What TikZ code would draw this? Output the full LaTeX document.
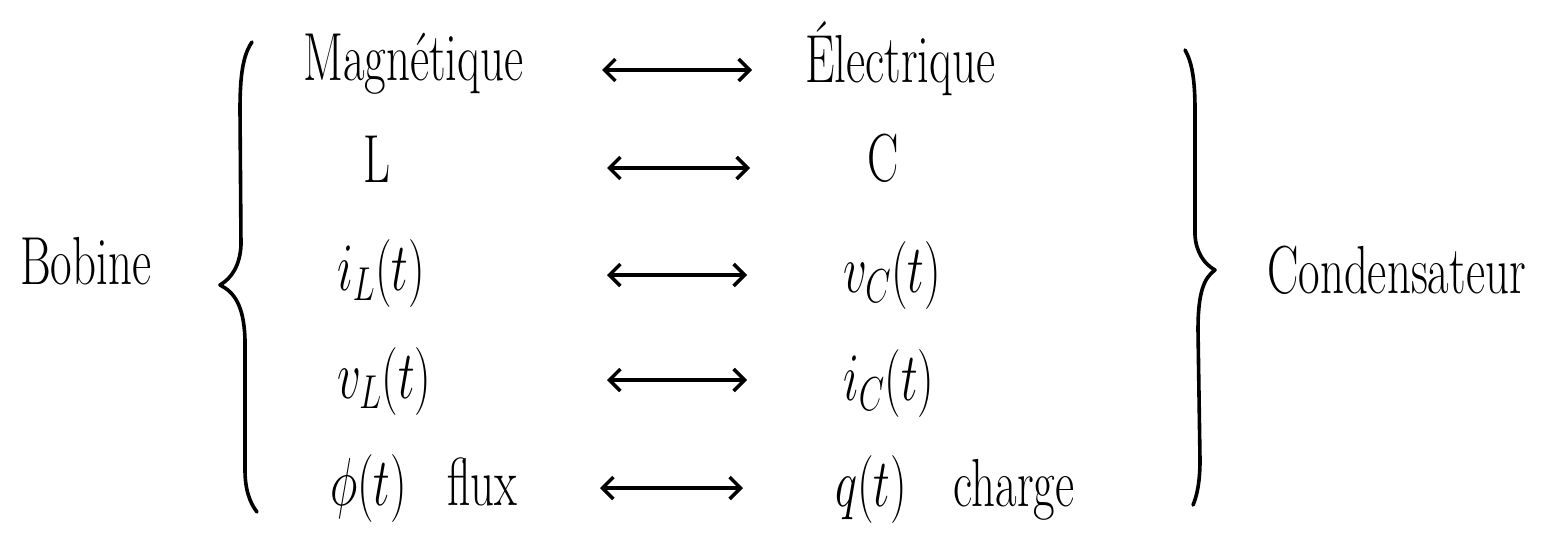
\RequirePackage{fix-cm}
\documentclass[tikz,border=0pt]{standalone}
\usetikzlibrary{arrows.meta}
\begin{document}
\begin{tikzpicture}[x=1pt,y=-1pt,
  lbl/.style={inner sep=0pt, xscale=0.69, font=\fontsize{68}{72}\selectfont},
  dblarrow/.style={line width=3.4pt, {Straight Barb[length=11pt,width=22pt,line width=3.4pt]}-{Straight Barb[length=11pt,width=22pt,line width=3.4pt]}},
  bracecurve/.style={line width=3.6pt, line cap=round, line join=round}]
\useasboundingbox (0,0) rectangle (1552,542);
% left column
\node[lbl, anchor=base west] (m) at (303,80) {Magnétique};
\node[lbl, anchor=base] (l) at (377,182) {L};
\node[lbl, anchor=base west] (il) at (337,290) {$i_L(t)$};
\node[lbl, anchor=base west] (vl) at (337,398) {$v_L(t)$};
\node[lbl, anchor=base west] (phi) at (330,505) {$\phi(t)$\hspace{0.85em}flux};
% right column
\node[lbl, anchor=base west] (e) at (805,82) {Électrique};
\node[lbl, anchor=base] (c) at (883,181) {C};
\node[lbl, anchor=base west] (vc) at (843,292) {$v_C(t)$};
\node[lbl, anchor=base west] (ic) at (843,400) {$i_C(t)$};
\node[lbl, anchor=base west] (q) at (835,506) {$q(t)$\hspace{1em}charge};
% side labels
\node[lbl, anchor=base west] (bob) at (20,284) {Bobine};
\node[lbl, anchor=base west] (cond) at (1267,293) {Condensateur};
% arrows
\coordinate (a1l) at (602,70);  \coordinate (a1r) at (752,70);
\coordinate (a2l) at (607,168); \coordinate (a2r) at (750,168);
\coordinate (a3l) at (607,275); \coordinate (a3r) at (747,275);
\coordinate (a4l) at (607,380); \coordinate (a4r) at (747,380);
\coordinate (a5l) at (600,488); \coordinate (a5r) at (743,488);
\draw[dblarrow] (a1l) -- (a1r);
\draw[dblarrow] (a2l) -- (a2r);
\draw[dblarrow] (a3l) -- (a3r);
\draw[dblarrow] (a4l) -- (a4r);
\draw[dblarrow] (a5l) -- (a5r);
% left brace
\draw[bracecurve] (252,42) .. controls (243,55) and (240,75) .. (240,110)
  -- (241,245) .. controls (240,265) and (232,278) .. (220,285)
  .. controls (234,292) and (244,305) .. (245,340)
  -- (245,470) .. controls (245,490) and (250,503) .. (257,512);
% right brace
\draw[bracecurve] (1185,50) .. controls (1192,62) and (1195,80) .. (1195,110)
  -- (1195,235) .. controls (1196,252) and (1204,264) .. (1215,270)
  .. controls (1204,278) and (1198,292) .. (1198,330)
  -- (1200,460) .. controls (1200,485) and (1196,498) .. (1193,505);
\end{tikzpicture}
\end{document}
